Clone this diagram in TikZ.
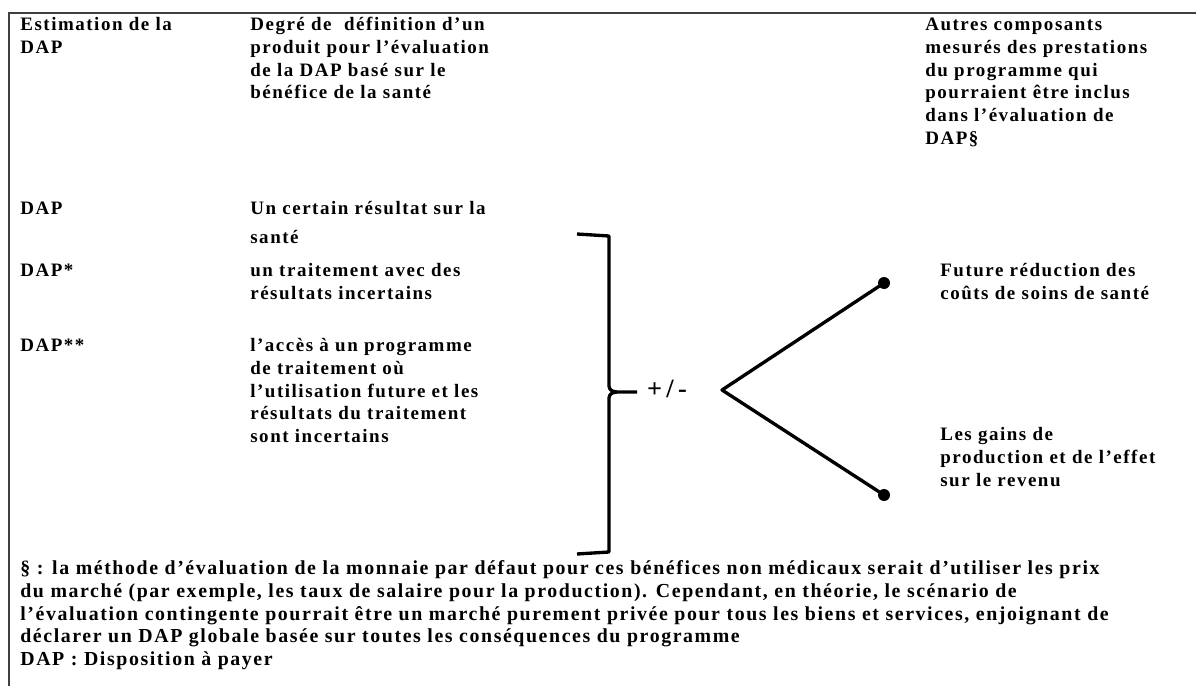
\documentclass[tikz,border=0pt]{standalone}
\usepackage{fontspec}
\setmainfont[LetterSpace=8]{Liberation Serif}
\usepackage{tikz}

\tikzset{
  txt/.style={anchor=north west, inner sep=0pt, align=left,
    font=\fontsize{10.8}{13}\selectfont\bfseries},
  brk/.style={line width=1.9pt, line join=round},
  dot/.style={circle, fill=black, inner sep=0pt, minimum size=0.24cm},
}

\begin{document}
\begin{tikzpicture}[x=0.02cm,y=-0.02cm]
\useasboundingbox (0,0) rectangle (1196,686);
% cadre
\draw[line width=1pt,black!75] (9,686)--(9,13)--(1196,13);

% en-tetes
\node[txt] (hEst) at (20,14) {\strut Estimation de la\\DAP};
\node[txt] (hDeg) at (250,14) {\strut Degré de\ \ définition d'un\\produit pour l'évaluation\\de la DAP basé sur le\\bénéfice de la santé};
\node[txt] (hAut) at (925,14) {\strut Autres composants\\mesurés des prestations\\du programme qui\\pourraient être inclus\\dans l'évaluation de\\DAP§};

% lignes
\node[txt] (dap1) at (20,198) {\strut DAP};
\node[txt] (def1) at (250,198) {\strut Un certain résultat sur la\\[1.3mm]santé};
\node[txt] (dap2) at (20,260) {\strut DAP*};
\node[txt] (def2) at (250,260) {\strut un traitement avec des\\résultats incertains};
\node[txt] (dap3) at (20,335) {\strut DAP**};
\node[txt] (def3) at (250,335) {\strut l'accès à un programme\\de traitement où\\l'utilisation future et les\\résultats du traitement\\sont incertains};

% accolade
\coordinate (tick) at (637,392);
\draw[brk] (577,234) -- (609,236) -- (609,386) to[out=-90,in=180] (617,392) -- (tick);
\draw[brk] (577,554) -- (609,552) -- (609,398) to[out=90,in=180] (617,392);
\node[font=\fontsize{15}{17}\selectfont\bfseries] (pm) at (667,389) {+\,/\,-};

% branches
\coordinate (vtx) at (722,390);
\node[dot] (up) at (884,283) {};
\node[dot] (lo) at (884,495) {};
\draw[brk] (up.center) -- (vtx) -- (lo.center);

\node[txt] (cout) at (940,260) {\strut Future réduction des\\coûts de soins de santé};
\node[txt] (gain) at (940,424) {\strut Les gains de\\production et de l'effet\\sur le revenu};

% notes
\node[txt, font=\fontsize{11.3}{13}\selectfont\bfseries] (note) at (20,558) {\strut § : la méthode d'évaluation de la monnaie par défaut pour ces bénéfices non médicaux serait d'utiliser les prix\\du marché (par exemple, les taux de salaire pour la production). Cependant, en théorie, le scénario de\\l'évaluation contingente pourrait être un marché purement privée pour tous les biens et services, enjoignant de\\déclarer un DAP globale basée sur toutes les conséquences du programme\\DAP : Disposition à payer};
\end{tikzpicture}
\end{document}
